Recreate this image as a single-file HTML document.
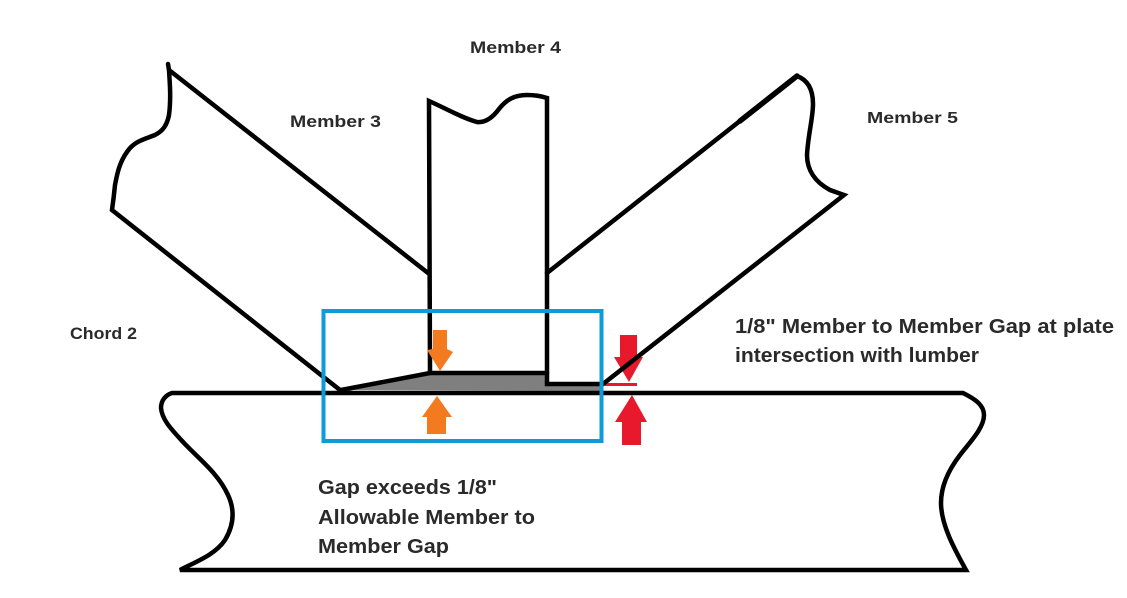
<!DOCTYPE html>
<html>
<head>
<meta charset="utf-8">
<style>
html,body{margin:0;padding:0;background:#fff;width:1127px;height:598px;overflow:hidden}
svg{display:block}
text{font-family:"Liberation Sans",sans-serif;font-weight:bold;fill:#2a2a2a}
.k{fill:none;stroke:#000;stroke-width:4.500;stroke-linecap:round;stroke-linejoin:miter}
</style>
</head>
<body>
<svg width="1127" height="598" viewBox="0 0 1127 598" xmlns="http://www.w3.org/2000/svg">
<rect width="1127" height="598" fill="#fff"/>
<!-- gray gap fill -->
<polygon points="350,390 430,375 546,375 547,386 602,386 602,391" fill="#7f7f7f"/>
<!-- red line under member -->
<line x1="605" y1="384.500" x2="637" y2="384.500" stroke="#e8192c" stroke-width="3"/>
<!-- red arrows -->
<polygon points="620,335 637,335 637,357 643,357 629,382 614,357 620,357" fill="#e8192c"/>
<polygon points="632,395 647,422 641,422 641,445 622,445 622,422 615,422" fill="#e8192c"/>
<!-- member 3 -->
<path class="k" d="M168,64 L169,70 C170,85 171,100 169,115 C167,125 163,131 155,135 C145,139 134,141 127,152 C119,163 117,175 115,185 C114,195 113,203 112,210 L340,390"/>
<path class="k" d="M169,70 L428,273"/>
<!-- member 4 -->
<path class="k" d="M430,373 L429,101 C445,108 462,118 477,122 C486,123 493,117 499,109 C506,100 514,95 527,95 C534,95 541,96 547,98 L547,384 L603,384"/>
<path class="k" d="M341,390 L430,373 L547,373"/>
<!-- member 5 -->
<path class="k" d="M547,273 L797,76 C808,80 813,90 813,104 C813,118 808,135 807,155 C807,170 815,182 830,190 L844,195 L603,384"/>
<path d="M740,121 L797,76" stroke="#000" stroke-width="5.500" stroke-linecap="round" fill="none"/>
<!-- chord -->
<path class="k" d="M172,393 L963,393 C975,399 984,405 984,415 C984,428 970,442 960,455 C950,468 941,485 941,503 C941,525 955,550 966,570 L180,570 C195,562 215,555 225,540 C234,525 235,510 228,495 C218,473 198,458 184,443 C172,430 162,420 161,408 C161,400 166,395 172,393 Z"/>
<!-- orange arrows -->
<polygon points="433,330 447,330 447,349 453,352 440,371 427,350 433,349" fill="#f47a20"/>
<polygon points="437,396 452,417 446,417 446,434 427,434 427,417 422,417" fill="#f47a20"/>
<!-- blue box -->
<rect x="323.500" y="311" width="278" height="130" fill="none" stroke="#0f9ad8" stroke-width="4"/>
<!-- labels -->
<text x="470" y="53" font-size="17" textLength="91" lengthAdjust="spacingAndGlyphs">Member 4</text>
<text x="290" y="127" font-size="17" textLength="91" lengthAdjust="spacingAndGlyphs">Member 3</text>
<text x="867" y="123" font-size="16" textLength="91" lengthAdjust="spacingAndGlyphs">Member 5</text>
<text x="70" y="339" font-size="17" textLength="67" lengthAdjust="spacingAndGlyphs">Chord 2</text>
<text x="735" y="333" font-size="20.500" textLength="379" lengthAdjust="spacingAndGlyphs">1/8" Member to Member Gap at plate</text>
<text x="735" y="362" font-size="20.500" textLength="244" lengthAdjust="spacingAndGlyphs">intersection with lumber</text>
<text x="318" y="494" font-size="20.500" textLength="179" lengthAdjust="spacingAndGlyphs">Gap exceeds 1/8"</text>
<text x="318" y="524" font-size="20.500" textLength="217" lengthAdjust="spacingAndGlyphs">Allowable Member to</text>
<text x="318" y="553" font-size="20.500" textLength="131" lengthAdjust="spacingAndGlyphs">Member Gap</text>
</svg>
</body>
</html>
